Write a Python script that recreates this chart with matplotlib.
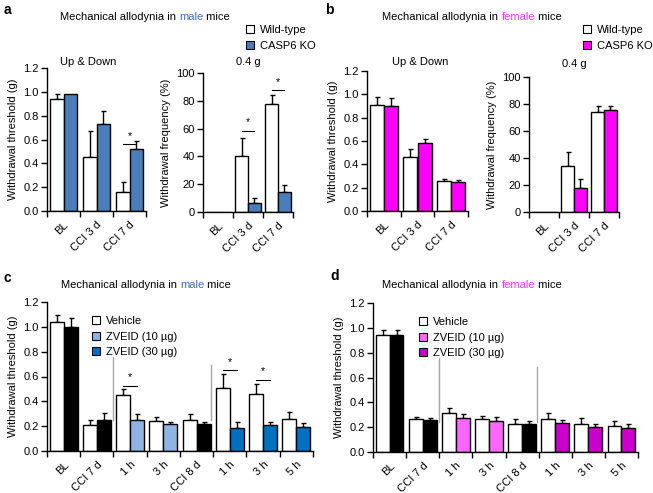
import matplotlib
matplotlib.use('Agg')
import matplotlib.pyplot as plt
from matplotlib.patches import Patch
import numpy as np

plt.rcParams['font.family'] = ['Liberation Sans', 'DejaVu Sans']
plt.rcParams['font.size'] = 8

W, H = 653, 493

# ---- data ----
cats_top = ['BL', 'CCI 3 d', 'CCI 7 d']
male_ud_wt = [0.94, 0.45, 0.16]
male_ud_wt_err = [0.04, 0.22, 0.08]
male_ud_ko = [0.98, 0.73, 0.52]
male_ud_ko_err = [0.0, 0.11, 0.07]
male_04_wt = [0, 40, 78]
male_04_wt_err = [0, 13.5, 6]
male_04_ko = [0, 6.4, 14.3]
male_04_ko_err = [0, 4, 5]
female_ud_wt = [0.91, 0.46, 0.255]
female_ud_wt_err = [0.07, 0.07, 0.017]
female_ud_ko = [0.90, 0.58, 0.245]
female_ud_ko_err = [0.07, 0.04, 0.017]
female_04_wt = [0, 34, 74]
female_04_wt_err = [0, 10.7, 4.3]
female_04_ko = [0, 17.5, 75.3]
female_04_ko_err = [0, 7.2, 3]

cats_bot = ['BL', 'CCI 7 d', '1 h', '3 h', 'CCI 8 d', '1 h', '3 h', '5 h']
male_veh = [1.04, 0.207, 0.448, 0.242, 0.252, 0.51, 0.462, 0.26]
male_veh_err = [0.053, 0.045, 0.051, 0.032, 0.043, 0.107, 0.075, 0.057]
male_drug = [1.0, 0.252, 0.252, 0.215, 0.217, 0.188, 0.207, 0.193]
male_drug_err = [0.07, 0.054, 0.043, 0.021, 0.019, 0.043, 0.029, 0.032]
female_veh = [0.946, 0.263, 0.313, 0.265, 0.222, 0.265, 0.222, 0.209]
female_veh_err = [0.04, 0.021, 0.038, 0.022, 0.041, 0.046, 0.049, 0.04]
female_drug = [0.946, 0.254, 0.276, 0.246, 0.222, 0.23, 0.2, 0.193]
female_drug_err = [0.04, 0.019, 0.027, 0.035, 0.027, 0.027, 0.028, 0.029]

BLUE = '#4A7EBB'
LBLUE = '#8DB4E2'
DBLUE = '#0070C0'
MAG = '#FF00FF'
PINK = '#FF66FF'
PURPLE = '#CC00CC'
MALE_TXT = '#3F6FC6'
FEMALE_TXT = '#FF33FF'

fig = plt.figure(figsize=(W / 100, H / 100), dpi=100)


def add_axes(x0, y0, x1, y1):
    return fig.add_axes([x0 / W, 1 - y1 / H, (x1 - x0) / W, (y1 - y0) / H])


def bar_panel(ax, cats, v1, e1, v2, e2, c2, ymax, yticks, fmt, ylabel):
    x = np.arange(len(cats))
    w = 0.42
    kw = dict(edgecolor='black', linewidth=1, zorder=2)
    ax.bar(x - w / 2, v1, w, color='white', **kw)
    ax.bar(x + w / 2, v2, w, color=c2, **kw)
    for xs, v, e in [(x - w / 2, v1, e1), (x + w / 2, v2, e2)]:
        e = np.asarray(e, dtype=float)
        keep = e > 0
        ax.errorbar(xs[keep], np.asarray(v)[keep],
                    yerr=[np.zeros(keep.sum()), e[keep]], fmt='none',
                    ecolor='black', elinewidth=1, capsize=1.8, capthick=1, zorder=1)
    ax.set_xlim(-0.5, len(cats) - 0.5)
    ax.set_ylim(0, ymax)
    ax.set_yticks(yticks)
    ax.set_yticklabels([fmt.format(t) for t in yticks])
    ax.set_xticks(x)
    ax.set_xticklabels(cats, rotation=45, ha='right', rotation_mode='anchor')
    ax.set_xticks(np.arange(len(cats) + 1) - 0.5, minor=True)
    ax.tick_params(axis='x', which='major', length=0, pad=6)
    ax.tick_params(axis='x', which='minor', length=4, width=1, direction='out')
    ax.tick_params(axis='y', length=4, width=1, direction='out', pad=2)
    for s in ['top', 'right']:
        ax.spines[s].set_visible(False)
    for s in ['left', 'bottom']:
        ax.spines[s].set_linewidth(1)
    ax.set_ylabel(ylabel, labelpad=4)


def sig(ax, g, y, dy):
    ax.plot([g - 0.21, g + 0.21], [y, y], color='black', lw=0.8)
    ax.text(g, y + dy, '*', ha='center', va='center', fontsize=7.5)


def multicolor_title(xc, y, parts):
    renderer = fig.canvas.get_renderer()
    texts = []
    x = 0
    for s, c in parts:
        t = fig.text(x, y, s, color=c, fontsize=8, va='center', ha='left')
        texts.append(t)
        x += t.get_window_extent(renderer).width / W
    total = x
    x = xc / W - total / 2
    for t in texts:
        t.set_x(x)
        x += t.get_window_extent(renderer).width / W
    for t in texts:
        t.set_y(1 - y / H)


def legend(ax, labels, colors, x, y):
    handles = [Patch(facecolor=c, edgecolor='black', linewidth=0.8) for c in colors]
    ax.legend(handles, labels, loc='upper left', bbox_to_anchor=(x / W, 1 - y / H),
              bbox_transform=fig.transFigure, frameon=False, fontsize=8,
              handlelength=0.7, handleheight=0.7, handletextpad=0.6,
              labelspacing=0.5, borderpad=0, borderaxespad=0)


ud_ticks = [0, 0.2, 0.4, 0.6, 0.8, 1.0, 1.2]
pct_ticks = [0, 20, 40, 60, 80, 100]

# panel a
a1 = add_axes(47, 68, 146, 211)
bar_panel(a1, cats_top, male_ud_wt, male_ud_wt_err, male_ud_ko, male_ud_ko_err,
          BLUE, 1.2, ud_ticks, '{:.1f}', 'Withdrawal threshold (g)')
sig(a1, 2, 0.56, 0.07)
a2 = add_axes(203, 73, 293, 212)
bar_panel(a2, cats_top, male_04_wt, male_04_wt_err, male_04_ko, male_04_ko_err,
          BLUE, 100, pct_ticks, '{:d}', 'Withdrawal frequency (%)')
sig(a2, 1, 58.5, 6)
sig(a2, 2, 87.6, 6)
legend(a2, ['Wild-type', 'CASP6 KO'], ['white', BLUE], 246, 25)

# panel b
b1 = add_axes(367, 71, 468, 211)
bar_panel(b1, cats_top, female_ud_wt, female_ud_wt_err, female_ud_ko, female_ud_ko_err,
          MAG, 1.2, ud_ticks, '{:.1f}', 'Withdrawal threshold (g)')
b2 = add_axes(529, 77, 619, 212)
bar_panel(b2, cats_top, female_04_wt, female_04_wt_err, female_04_ko, female_04_ko_err,
          MAG, 100, pct_ticks, '{:d}', 'Withdrawal frequency (%)')
legend(b2, ['Wild-type', 'CASP6 KO'], ['white', MAG], 583, 25)

# panel c
c = add_axes(47, 302, 313, 451)
male_cols = ['black', 'black', LBLUE, LBLUE, 'black', DBLUE, DBLUE, DBLUE]
bar_panel(c, cats_bot, male_veh, male_veh_err, male_drug, male_drug_err,
          male_cols, 1.2, ud_ticks, '{:.1f}', 'Withdrawal threshold (g)')
sig(c, 2, 0.523, 0.07)
sig(c, 5, 0.65, 0.07)
sig(c, 6, 0.574, 0.07)
c.plot([1.5, 1.5], [0.247, 0.76], color='#A6A6A6', lw=1)
c.plot([4.42, 4.42], [0.247, 0.69], color='#A6A6A6', lw=1)
legend(c, ['Vehicle', 'ZVEID (10 \u00b5g)', 'ZVEID (30 \u00b5g)'],
       ['white', LBLUE, DBLUE], 92, 316)

# panel d
d = add_axes(373, 303, 638, 452)
female_cols = ['black', 'black', PINK, PINK, 'black', PURPLE, PURPLE, PURPLE]
bar_panel(d, cats_bot, female_veh, female_veh_err, female_drug, female_drug_err,
          female_cols, 1.2, ud_ticks, '{:.1f}', 'Withdrawal threshold (g)')
d.plot([1.5, 1.5], [0.244, 0.76], color='#A6A6A6', lw=1)
d.plot([4.45, 4.45], [0.244, 0.686], color='#A6A6A6', lw=1)
legend(d, ['Vehicle', 'ZVEID (10 \u00b5g)', 'ZVEID (30 \u00b5g)'],
       ['white', PINK, PURPLE], 419, 317)

# subtitles
for x, y, s in [(88, 62, 'Up & Down'), (248, 62, '0.4 g'),
                (420, 62, 'Up & Down'), (574, 64, '0.4 g')]:
    fig.text(x / W, 1 - y / H, s, ha='center', va='center', fontsize=8)

# titles
multicolor_title(145, 17, [('Mechanical allodynia in ', 'black'), ('male', MALE_TXT), (' mice', 'black')])
multicolor_title(472, 17, [('Mechanical allodynia in ', 'black'), ('female', FEMALE_TXT), (' mice', 'black')])
multicolor_title(146, 285, [('Mechanical allodynia in ', 'black'), ('male', MALE_TXT), (' mice', 'black')])
multicolor_title(472, 285, [('Mechanical allodynia in ', 'black'), ('female', FEMALE_TXT), (' mice', 'black')])

# panel letters
for x, y, s in [(4, 10, 'a'), (325, 10, 'b'), (3, 278, 'c'), (330, 276, 'd')]:
    fig.text(x / W, 1 - y / H, s, ha='left', va='center', fontsize=10, fontweight='bold')

plt.savefig('out.png', dpi=100)
plt.close()
